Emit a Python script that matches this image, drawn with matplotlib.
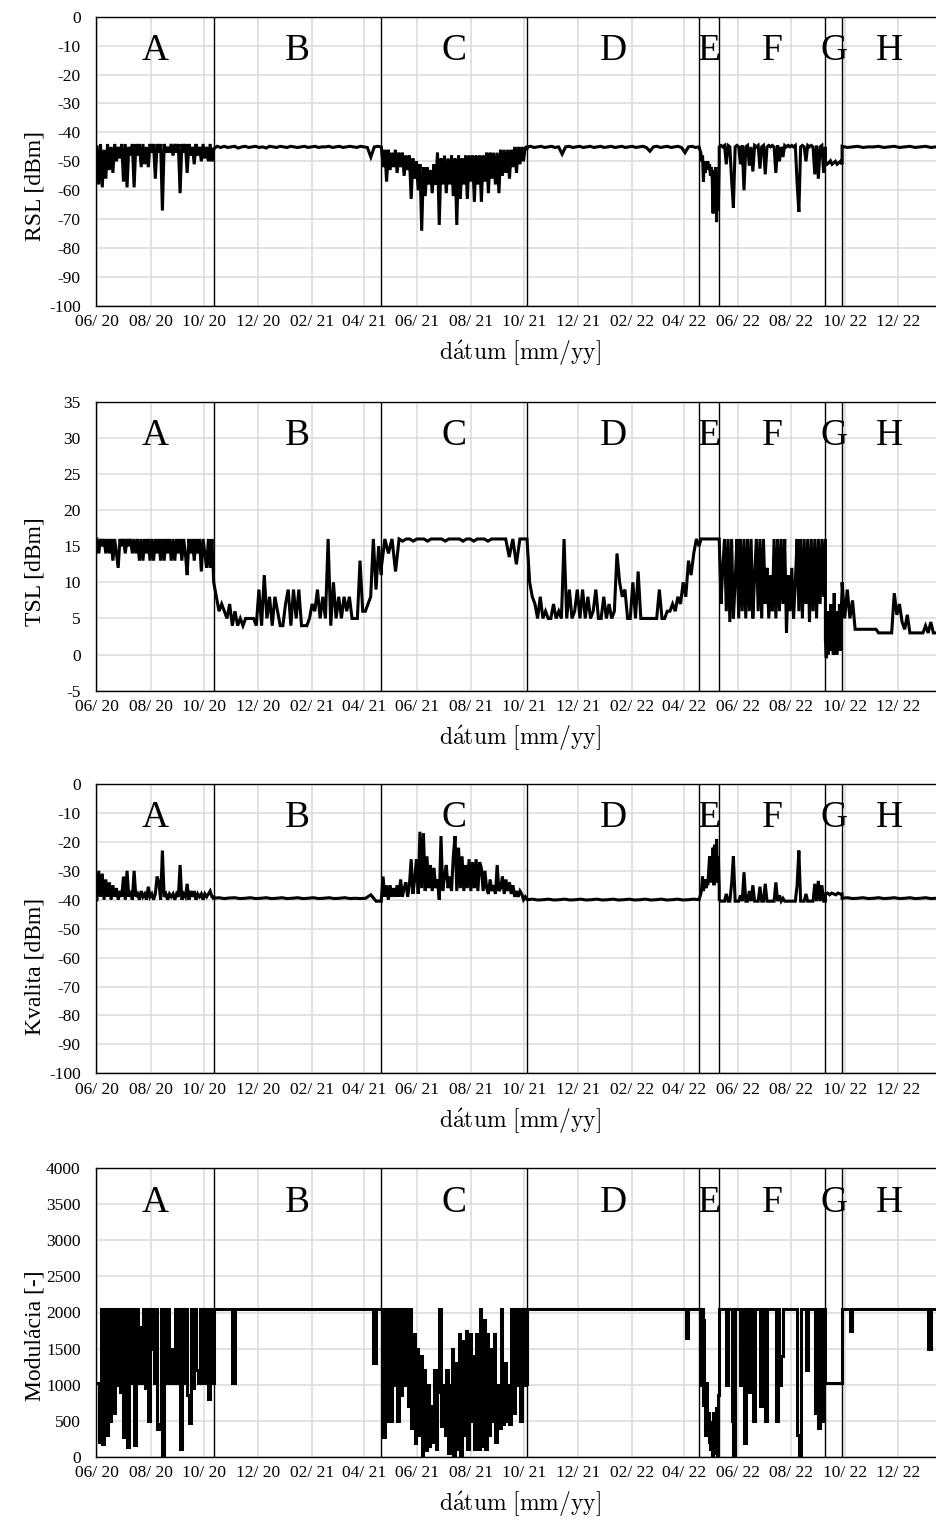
import matplotlib

matplotlib.use("Agg")

import matplotlib.dates as mdates
import matplotlib.pyplot as plt
from matplotlib.transforms import blended_transform_factory
import numpy as np

plt.rcParams["font.family"] = ["Liberation Serif", "DejaVu Serif"]
plt.rcParams["mathtext.fontset"] = "cm"
plt.rcParams["axes.unicode_minus"] = False

# measurement periods A..H (edges), x axis range
REGION_NAMES = ["A", "B", "C", "D", "E", "F", "G", "H"]
REGION_EDGES = ["2020-06-01", "2020-10-12", "2021-04-21", "2021-10-04",
                "2022-04-18", "2022-05-11", "2022-09-09", "2022-09-28", "2023-01-13"]
X_START = "2020-05-31"
X_END = "2023-01-13"

# RSL [dBm] - samples spread evenly across each period
rsl_a = [-45, -58, -44, -59, -46, -56, -44, -53, -45, -54,
         -44, -50, -45, -49, -44, -57, -44, -59, -45, -48,
         -44, -59, -44, -48, -44, -52, -44, -51, -45, -52,
         -44, -47, -44, -56, -44, -47, -44, -67, -44, -47,
         -45, -47, -44, -48, -44, -47, -44, -61, -44, -47,
         -44, -54, -44, -48, -45, -51, -44, -48, -45, -50,
         -44, -49, -45, -50, -44, -50, -46]
rsl_b = [-45.6, -44.8, -45.2, -44.8, -45.2, -45, -44.8, -45.4, -45, -44.8,
         -45.2, -45, -44.8, -45.2, -45, -45.4, -44.8, -45, -45.2, -44.8,
         -45, -45.2, -44.8, -45, -45.2, -45, -44.8, -45.2, -45, -44.8,
         -45.2, -45, -45, -44.8, -45.2, -45, -44.8, -45.2, -45, -44.8,
         -45, -45.2, -44.8, -45, -45.2, -48.5, -45, -44.8, -45]
rsl_c = [-45, -52, -46, -57, -46, -53, -47, -52, -46, -54,
         -47, -52, -47, -55, -48, -53, -48, -63, -49, -56,
         -50, -60, -51, -74, -52, -62, -52, -58, -53, -61,
         -51, -58, -47, -72, -49, -58, -48, -61, -49, -58,
         -48, -62, -49, -72, -48, -63, -49, -58, -48, -63,
         -48, -57, -48, -64, -48, -58, -48, -64, -48, -57,
         -47, -61, -47, -56, -47, -58, -47, -61, -46, -55,
         -46, -54, -46, -56, -46, -52, -45, -54, -45, -51,
         -45, -50, -45, -46]
rsl_d = [-45, -44.8, -45.2, -45, -44.8, -45.2, -45, -44.8, -45.2, -45,
         -47.5, -45, -44.8, -45.2, -45, -44.8, -45.2, -45, -44.8, -45.2,
         -45, -44.8, -45.2, -45, -44.8, -45.2, -45, -44.8, -45.2, -45,
         -44.8, -45.2, -45, -44.8, -45.2, -46.5, -45, -44.8, -45.2, -45,
         -44.8, -45.2, -45, -44.8, -45.2, -47, -45, -44.8, -45.2, -45]
rsl_e = [-45, -46, -47, -50, -48, -57, -50, -54, -51, -52,
         -50, -53, -51, -55, -52, -56, -68, -53, -60, -52,
         -71, -54, -67, -50]
rsl_f = [-45, -44.5, -45, -44.5, -51, -44.5, -45, -56.5, -66, -45,
         -44.5, -45, -51, -44.5, -60, -45, -44.5, -51.5, -45, -53.5,
         -44.5, -45, -44.5, -52.5, -45, -44.5, -54.5, -45, -44.5, -45,
         -44.5, -45, -54, -44.5, -50, -45, -48.5, -44.5, -45, -44.5,
         -45, -44.5, -45, -44.5, -57.5, -67.5, -45, -44.5, -45, -50,
         -44.5, -45, -44.5, -45, -54.5, -44.5, -56, -45, -44.5, -54,
         -45]
rsl_g = [-50, -51, -50.5, -49.8, -51, -50.5, -50, -51, -50.5, -50, -51]
rsl_h = [-44.8, -45.2, -45, -44.8, -45.2, -45, -45, -44.8, -45.2, -45,
         -44.8, -45.2, -45, -44.8, -45.2, -45, -44.8, -45.2, -45]

# TSL [dBm]
tsl_a = [16, 14, 16, 15, 16, 14, 16, 14, 16, 13,
         16, 14, 12, 16, 15, 16, 14, 16, 15, 16,
         14, 16, 14, 16, 13, 16, 13, 16, 14, 16,
         13, 16, 13, 16, 14, 16, 13, 16, 13, 16,
         14, 16, 13, 16, 13, 16, 14, 16, 13, 16,
         14, 11, 16, 14, 16, 13, 16, 14, 16, 11.5,
         16, 14, 12, 16, 12, 16, 10]
tsl_b = [10, 8, 6, 7, 6, 5, 7, 4, 6, 4,
         5, 4, 5, 5, 5, 5, 4, 9, 4, 11,
         5, 8, 4, 8, 6, 4, 4, 7, 9, 4,
         9, 5, 9, 4, 4, 4, 5, 7, 6, 9,
         5, 8, 5, 16, 4, 10, 5, 8, 5, 8,
         6, 8, 5, 5, 5, 13, 6, 6, 7, 8,
         16, 9, 15, 11]
tsl_c = [12, 16, 14, 16, 11.5, 16, 15.7, 16, 16, 15.7,
         16, 16, 16, 15.7, 16, 16, 16, 16, 15.7, 16,
         16, 16, 16, 15.7, 16, 16, 15.7, 16, 16, 16,
         15.7, 16, 16, 16, 16, 16, 13.5, 16, 12.5, 16,
         16, 16]
tsl_d = [16, 10, 8, 7, 5, 8, 5, 6, 5, 5,
         7, 5, 6, 5, 16, 5, 9, 5, 6, 9,
         5, 9, 5, 8, 5, 6, 9, 5, 5, 8,
         5, 7, 5, 6, 14, 10, 8, 9, 5, 5,
         10, 5, 11.5, 5, 5, 5, 5, 5, 5, 5,
         9, 5, 5, 6, 6, 7, 6, 8, 7, 10,
         8, 13, 11, 14, 16, 15]
tsl_e = [15, 16, 16, 16, 16, 16, 16, 16, 16, 16, 16]
tsl_f = [16, 7, 12, 16, 6, 16, 4.5, 16, 5, 10,
         16, 5, 16, 6, 16, 5, 16, 6, 16, 5,
         11, 16, 6, 16, 5, 16, 7, 12, 5, 11,
         6, 16, 5, 16, 6, 16, 7, 16, 3, 11,
         6, 12, 5, 10, 16, 6, 16, 5, 16, 7,
         16, 4.5, 16, 6, 16, 5, 16, 7, 16, 8,
         16]
tsl_g = [2, -0.5, 6, 0, 5, 1, 7, 0.5, 4, 0,
         8.5, 1, 6, 0, 5, 1, 7, 0.5, 6, 9]
tsl_h = [10, 5, 9, 5, 7.5, 3.5, 3.5, 3.5, 3.5, 3.5,
         3.5, 3.5, 3.5, 3.5, 3, 3, 3, 3, 3, 3,
         8.5, 5.5, 7, 4.5, 3.5, 5.5, 3, 3, 3, 3,
         3, 3, 4, 3, 4.5, 3, 3]

# Kvalita [dBm]
kv_a = [-40, -30, -39, -31, -40, -33, -39, -34, -40, -35,
        -39, -36, -40, -37, -39, -32, -40, -30, -39, -37,
        -40, -30, -39, -38, -40, -37, -39, -38, -40, -35.5,
        -39, -38, -40, -38, -32, -34, -40, -23, -39, -38,
        -40, -38, -39, -38, -40, -38, -39, -28, -40, -38,
        -39, -34.5, -40, -37, -39, -37, -40, -38, -39, -38,
        -40, -38, -39, -38, -37, -39, -39]
kv_b = [-39.5, -39.3, -39.6, -39.4, -39.3, -39.6, -39.5, -39.3, -39.6, -39.5,
        -39.3, -39.6, -39.5, -39.3, -39.6, -39.5, -39.3, -39.6, -39.5, -39.3,
        -39.6, -39.5, -39.3, -39.6, -39.5, -39.3, -39.6, -39.5, -39.6, -39.5,
        -38.3, -40.5, -40.5]
kv_c = [-40, -32, -39, -35, -40, -35, -39, -36, -39, -35,
        -39, -33, -39, -36, -34, -39, -35, -26, -38, -33,
        -26, -38, -16.5, -36, -17, -37, -25, -36, -28, -37,
        -29, -36, -33, -40, -18, -37, -32, -28, -36, -32,
        -37, -25, -18, -37, -22, -36, -25, -37, -28, -36,
        -26, -37, -27, -36, -26, -37, -27, -29, -37, -30,
        -36, -38, -33, -37, -35, -38, -28, -37, -36, -32,
        -38, -33, -37, -34, -38, -35, -39, -37, -39, -37,
        -38, -40, -39, -40]
kv_d = [-40, -39.8, -40.1, -40, -39.8, -40.1, -40, -39.8, -40.1, -40,
        -39.8, -40.1, -40, -39.8, -40.1, -40, -39.8, -40.1, -40, -39.8,
        -40.1, -40, -39.8, -40.1, -40, -39.8, -40.1, -40, -39.8, -40.1,
        -40, -39.8, -40]
kv_e = [-40, -39, -38, -36, -32, -37, -35, -33, -36, -34,
        -35, -30, -25, -34, -29, -33, -22, -35, -21, -32,
        -19, -34, -25, -36]
kv_f = [-40, -40.5, -40.5, -40.5, -38, -40.5, -40.5, -34.5, -25, -40.5,
        -40.5, -40.5, -38.5, -40.5, -30.5, -40.5, -40.5, -37, -40.5, -35,
        -40.5, -40.5, -40.5, -35.5, -40.5, -40.5, -34.5, -40.5, -40.5, -40.5,
        -40.5, -40.5, -34, -40.5, -38.5, -40.5, -39.5, -40.5, -40.5, -40.5,
        -40.5, -40.5, -40.5, -40.5, -35, -23, -40.5, -40.5, -40.5, -38,
        -40.5, -40.5, -40.5, -40.5, -34.5, -40.5, -33.5, -40.5, -35, -40.5,
        -40.5]
kv_g = [-38, -37.7, -38.3, -37.7, -38, -38.3, -37.7, -38, -38]
kv_h = [-39.5, -39.3, -39.6, -39.5, -39.3, -39.6, -39.5, -39.3, -39.6, -39.5,
        -39.3, -39.6, -39.5, -39.3, -39.6, -39.5, -39.3, -39.6, -39.5]

# Modulacia [-]
mod_a = [1024, 200, 2048, 180, 2048, 300, 2048, 500, 2048, 600,
         2048, 1000, 2048, 900, 2048, 280, 2048, 130, 2048, 1024,
         2048, 160, 2048, 1024, 1800, 1024, 2048, 950, 2048, 500,
         2048, 1500, 1024, 2048, 380, 450, 2048, 10, 2048, 1024,
         2048, 1024, 1500, 1024, 2048, 1024, 2048, 110, 2048, 1024,
         2048, 850, 470, 2048, 950, 2048, 1200, 1024, 2048, 1024,
         2048, 1024, 2048, 800, 2048, 1024, 2048]
mod_b = [2048, 2048, 2048, 2048, 2048, 2048, 2048, 1024, 2048, 2048,
         2048, 2048, 2048, 2048, 2048, 2048, 2048, 2048, 2048, 2048,
         2048, 2048, 2048, 2048, 2048, 2048, 2048, 2048, 2048, 2048,
         2048, 2048, 2048, 2048, 2048, 2048, 2048, 2048, 2048, 2048,
         2048, 2048, 2048, 2048, 2048, 2048, 2048, 2048, 2048, 2048,
         2048, 2048, 2048, 2048, 2048, 2048, 2048, 2048, 2048, 2048,
         1300, 2048, 2048, 2048]
mod_c = [2048, 270, 2048, 500, 2048, 500, 2048, 1000, 2048, 500,
         2048, 850, 2048, 1000, 2048, 700, 2048, 400, 1700, 185,
         1500, 300, 1400, 0, 1200, 90, 1000, 150, 700, 200,
         1200, 100, 900, 2048, 420, 1000, 300, 1200, 50, 1000,
         1500, 0, 1300, 100, 1700, 30, 1600, 300, 1750, 100,
         1700, 500, 1400, 100, 1700, 100, 2048, 150, 1900, 100,
         1700, 300, 1500, 500, 1700, 200, 1000, 400, 2048, 450,
         1300, 500, 1000, 450, 2048, 600, 2048, 1000, 2048, 500,
         2048, 1000, 2048, 1000]
mod_d = [2048, 2048, 2048, 2048, 2048, 2048, 2048, 2048, 2048, 2048,
         2048, 2048, 2048, 2048, 2048, 2048, 2048, 2048, 2048, 2048,
         2048, 2048, 2048, 2048, 2048, 2048, 2048, 2048, 2048, 2048,
         2048, 2048, 2048, 2048, 2048, 2048, 2048, 2048, 2048, 2048,
         2048, 2048, 2048, 2048, 2048, 2048, 2048, 2048, 2048, 2048,
         2048, 2048, 2048, 2048, 2048, 2048, 2048, 2048, 2048, 2048,
         1650, 2048, 2048, 2048, 2048, 2048]
mod_e = [2048, 2048, 1000, 2048, 700, 1900, 1000, 300, 1024, 400,
         600, 200, 500, 100, 300, 0, 600, 50, 300, 675,
         0, 400, 856, 2048]
mod_f = [2048, 2048, 2048, 2048, 1000, 2048, 2048, 500, 30, 2048,
         2048, 2048, 1000, 2048, 185, 2048, 2048, 900, 2048, 500,
         2048, 2048, 2048, 700, 2048, 2048, 500, 2048, 2048, 2048,
         2048, 2048, 500, 2048, 1000, 1400, 2048, 2048, 2048, 2048,
         2048, 2048, 2048, 2048, 300, 0, 2048, 2048, 2048, 1200,
         2048, 2048, 2048, 2048, 600, 2048, 400, 2048, 500, 2048,
         2048]
mod_g = [1024, 1024, 1024, 1024, 1024, 1024, 1024]
mod_h = [2048, 2048, 2048, 1750, 2048, 2048, 2048, 2048, 2048, 2048,
         2048, 2048, 2048, 2048, 2048, 2048, 2048, 2048, 2048, 2048,
         2048, 2048, 2048, 2048, 2048, 2048, 2048, 2048, 2048, 2048,
         2048, 2048, 2048, 2048, 1500, 2048, 2048, 2048]

rsl = [rsl_a, rsl_b, rsl_c, rsl_d, rsl_e, rsl_f, rsl_g, rsl_h]
tsl = [tsl_a, tsl_b, tsl_c, tsl_d, tsl_e, tsl_f, tsl_g, tsl_h]
kvalita = [kv_a, kv_b, kv_c, kv_d, kv_e, kv_f, kv_g, kv_h]
modulacia = [mod_a, mod_b, mod_c, mod_d, mod_e, mod_f, mod_g, mod_h]


def _series_xy(segments: list[list[float]]) -> tuple[np.ndarray, np.ndarray]:
    edges = mdates.datestr2num(REGION_EDGES)
    xs, ys = [], []
    for k, vals in enumerate(segments):
        xs.append(np.linspace(edges[k], edges[k + 1], len(vals)))
        ys.append(np.asarray(vals, dtype=float))
    return np.concatenate(xs), np.concatenate(ys)


def _draw_panel(ax, segments, ylim, ystep, ylabel, ylabel_y, steps=False) -> None:
    x, y = _series_xy(segments)
    ax.plot(x, y, color="black", lw=2.2, drawstyle="steps-post" if steps else "default",
            solid_joinstyle="miter", zorder=3)

    edges = mdates.datestr2num(REGION_EDGES)
    for e in edges[1:-1]:
        ax.axvline(e, color="black", lw=1.0, zorder=4)

    trans = blended_transform_factory(ax.transData, ax.transAxes)
    for k, name in enumerate(REGION_NAMES):
        ax.text((edges[k] + edges[k + 1]) / 2, 0.85, name, transform=trans,
                ha="center", va="baseline", fontsize=27, zorder=5)

    ax.set_xlim(mdates.datestr2num(X_START) - 0.1, mdates.datestr2num(X_END))
    ax.set_ylim(*ylim)
    ax.set_yticks(np.arange(ylim[0], ylim[1] + ystep / 2, ystep))
    ax.xaxis.set_major_locator(mdates.MonthLocator(bymonth=[2, 4, 6, 8, 10, 12]))
    ax.xaxis.set_major_formatter(mdates.DateFormatter("%m/ %y"))
    ax.grid(True, color="#dadada", lw=1.1, zorder=0)
    ax.set_axisbelow(True)
    ax.tick_params(length=0, labelsize=12.5)
    ax.tick_params(axis="y", pad=11)
    ax.tick_params(axis="x", pad=6)
    for side in ("left", "top", "bottom"):
        ax.spines[side].set_linewidth(1.0)
        ax.spines[side].set_color("black")
    ax.spines["right"].set_visible(False)

    ax.text(-0.073, ylabel_y, ylabel, transform=ax.transAxes, rotation=90,
            ha="center", va="center", fontsize=17)
    ax.text(0.505, -0.162, r"$\mathrm{d\acute{a}tum\ [mm/yy]}$", transform=ax.transAxes,
            ha="center", va="center", fontsize=17)


def main() -> None:
    W, H = 936, 1522
    fig = plt.figure(figsize=(W / 100, H / 100), dpi=100)

    left, right = 96, 936
    # (top px, bottom px) of each panel
    boxes = [(16.7, 306.0), (401.7, 690.7), (784.0, 1073.3), (1168.3, 1456.7)]
    specs = [
        (rsl, (-100, 0), 10, "RSL [dBm]", 0.415, False),
        (tsl, (-5, 35), 5, "TSL [dBm]", 0.411, False),
        (kvalita, (-100, 0), 10, "Kvalita [dBm]", 0.368, False),
        (modulacia, (0, 4000), 500, "Modulácia [-]", 0.418, True),
    ]
    for (top, bottom), (segs, ylim, ystep, label, label_y, steps) in zip(boxes, specs):
        ax = fig.add_axes([left / W, 1 - bottom / H, (right - left) / W, (bottom - top) / H])
        _draw_panel(ax, segs, ylim, ystep, label, label_y, steps)

    fig.savefig("out.png", dpi=100)
    plt.close(fig)


if __name__ == "__main__":
    main()
